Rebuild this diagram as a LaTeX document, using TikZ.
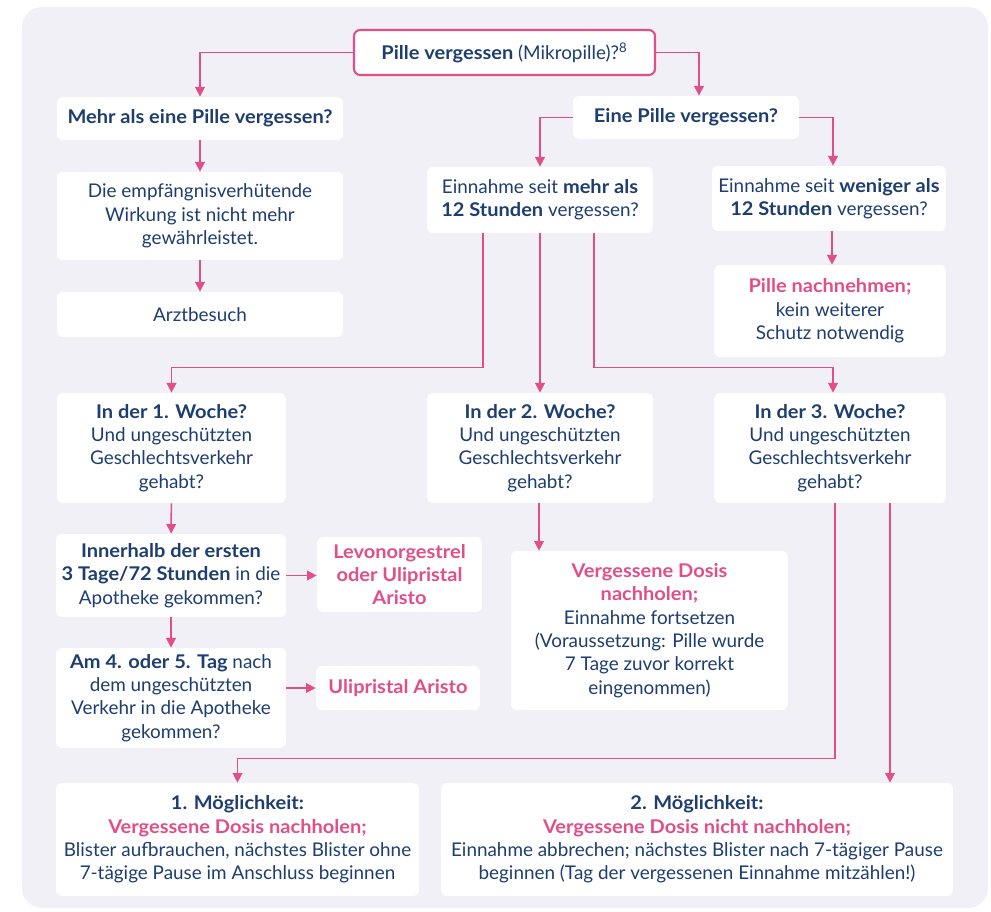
\documentclass[tikz,border=0pt]{standalone}
\usepackage{fontspec}
\setmainfont{Lato}[BoldFeatures={FakeStretch=1.06}]
\usetikzlibrary{arrows.meta}
\definecolor{rosa}{RGB}{225,78,138}
\definecolor{navy}{RGB}{30,62,112}
\definecolor{hgrund}{RGB}{241,240,247}

\begin{document}
\begin{tikzpicture}[x=0.02cm,y=-0.02cm,
    box/.style={fill=white, rounded corners=3.5pt, align=center, text=navy, inner sep=2pt,
      font=\fontsize{10.75}{13.3}\selectfont},
    startbox/.style={box, draw=rosa, line width=1.2pt},
    pfeil/.style={rosa, line width=0.85pt, -{Triangle[length=5.5pt,width=5.5pt]}}]
        % Rahmen und Hintergrund
        \useasboundingbox (0,0) rectangle (991,912);
        \fill[hgrund, rounded corners=0.4cm] (22,7) rectangle (988,908);
        % Startfrage
        \node[startbox, minimum width=6.02cm, minimum height=0.9cm] (start) at (504.5,52.5)
            {\textbf{Pille vergessen} (Mikropille)?\textsuperscript{8}};
        % Linke Spalte
        \node[box, minimum width=5.72cm, minimum height=0.86cm] (mehr) at (200,118.5)
            {\textbf{Mehr als eine Pille vergessen?}};
        \node[box, minimum width=5.72cm, minimum height=1.76cm] (wirkung) at (200,216)
            {Die empfängnisverhütende\\Wirkung ist nicht mehr\\gewährleistet.};
        \node[box, minimum width=5.72cm, minimum height=0.9cm] (arzt) at (200,314.5)
            {Arztbesuch};
        % Rechte Seite
        \node[box, minimum width=4.52cm, minimum height=0.86cm] (eine) at (686,117.5)
            {\textbf{Eine Pille vergessen?}};
        \node[box, minimum width=4.52cm, minimum height=1.32cm] (ueber) at (540,200)
            {Einnahme seit \textbf{mehr als}\\\textbf{12 Stunden} vergessen?};
        \node[box, minimum width=4.68cm, minimum height=1.3cm] (unter) at (829,198.5)
            {Einnahme seit \textbf{weniger als}\\\textbf{12 Stunden} vergessen?};
        \node[box, minimum width=4.64cm, minimum height=1.84cm] (nachnehmen) at (830,311)
            {\textcolor{rosa}{\textbf{Pille nachnehmen;}}\\kein weiterer\\Schutz notwendig};
        % Wochen
        \node[box, minimum width=4.58cm, minimum height=2.2cm] (woche1) at (171.5,448)
            {\textbf{In der 1. Woche?}\\Und ungeschützten\\Geschlechtsverkehr\\gehabt?};
        \node[box, minimum width=4.52cm, minimum height=2.2cm] (woche2) at (540,448)
            {\textbf{In der 2. Woche?}\\Und ungeschützten\\Geschlechtsverkehr\\gehabt?};
        \node[box, minimum width=4.64cm, minimum height=2.2cm] (woche3) at (830,448)
            {\textbf{In der 3. Woche?}\\Und ungeschützten\\Geschlechtsverkehr\\gehabt?};
        % Notfallverhuetung
        \node[box, minimum width=4.6cm, minimum height=1.66cm] (dreitage) at (171,575.5)
            {\textbf{Innerhalb der ersten}\\\textbf{3 Tage/72 Stunden} in die\\Apotheke gekommen?};
        \node[box, minimum width=3.3cm, minimum height=1.5cm] (levo) at (399.5,574.5)
            {\textcolor{rosa}{\textbf{Levonorgestrel}}\\\textcolor{rosa}{\textbf{oder Ulipristal}}\\\textcolor{rosa}{\textbf{Aristo}}};
        \node[box, minimum width=4.6cm, minimum height=2cm] (tagvier) at (171,698)
            {\textbf{Am 4. oder 5. Tag} nach\\dem ungeschützten\\Verkehr in die Apotheke\\gekommen?};
        \node[box, minimum width=3.28cm, minimum height=0.88cm] (uli) at (398,688)
            {\textcolor{rosa}{\textbf{Ulipristal Aristo}}};
        \node[box, minimum width=5.54cm, minimum height=3.18cm] (nachholen) at (649.5,630.5)
            {\textcolor{rosa}{\textbf{Vergessene Dosis}}\\\textcolor{rosa}{\textbf{nachholen;}}\\Einnahme fortsetzen\\(Voraussetzung: Pille wurde\\7 Tage zuvor korrekt\\eingenommen)};
        % Moeglichkeiten
        \node[box, minimum width=7.26cm, minimum height=2.26cm] (moegl1) at (237.5,839.5)
            {\textbf{1. Möglichkeit:}\\\textcolor{rosa}{\textbf{Vergessene Dosis nachholen;}}\\Blister aufbrauchen, nächstes Blister ohne\\7-tägige Pause im Anschluss beginnen};
        \node[box, minimum width=10.24cm, minimum height=2.26cm] (moegl2) at (697,839.5)
            {\textbf{2. Möglichkeit:}\\\textcolor{rosa}{\textbf{Vergessene Dosis nicht nachholen;}}\\Einnahme abbrechen; nächstes Blister nach 7-tägiger Pause\\beginnen (Tag der vergessenen Einnahme mitzählen!)};
        % Pfeile
        \draw[pfeil] (start.west) -| (mehr.north);
        \draw[pfeil] (start.east) -| ([xshift=0.26cm]eine.north);
        \draw[pfeil] (mehr) -- (wirkung);
        \draw[pfeil] (wirkung) -- (arzt);
        \draw[pfeil] (eine.west) -| (ueber.north);
        \draw[pfeil] (eine.east) -| ([xshift=0.08cm]unter.north);
        \draw[pfeil] ([xshift=0.06cm]unter.south) -- ([xshift=0.06cm]unter.south |- nachnehmen.north);
        \draw[pfeil] ([xshift=-1.14cm]ueber.south) -- ++(0,134) -| (woche1.north);
        \draw[pfeil] (ueber.south) -- (woche2.north);
        \draw[pfeil] ([xshift=1.08cm]ueber.south) -- ++(0,134) -| ([xshift=0.06cm]woche3.north);
        \draw[pfeil] (woche1) -- (dreitage);
        \draw[pfeil] (dreitage) -- (tagvier);
        \draw[pfeil] (dreitage.east) -- (dreitage.east -| levo.west);
        \draw[pfeil] (uli.west -| tagvier.east) -- (uli.west);
        \draw[pfeil] ([xshift=-0.02cm]woche2.south) -- ([xshift=-0.02cm]woche2.south |- nachholen.north);
        \draw[pfeil] ([xshift=0.1cm]woche3.south) -- ++(0,255) -| (moegl1.north);
        \draw[pfeil] ([xshift=1.2cm]woche3.south) -- ([xshift=1.2cm]woche3.south |- moegl2.north);
    \end{tikzpicture}
\end{document}
